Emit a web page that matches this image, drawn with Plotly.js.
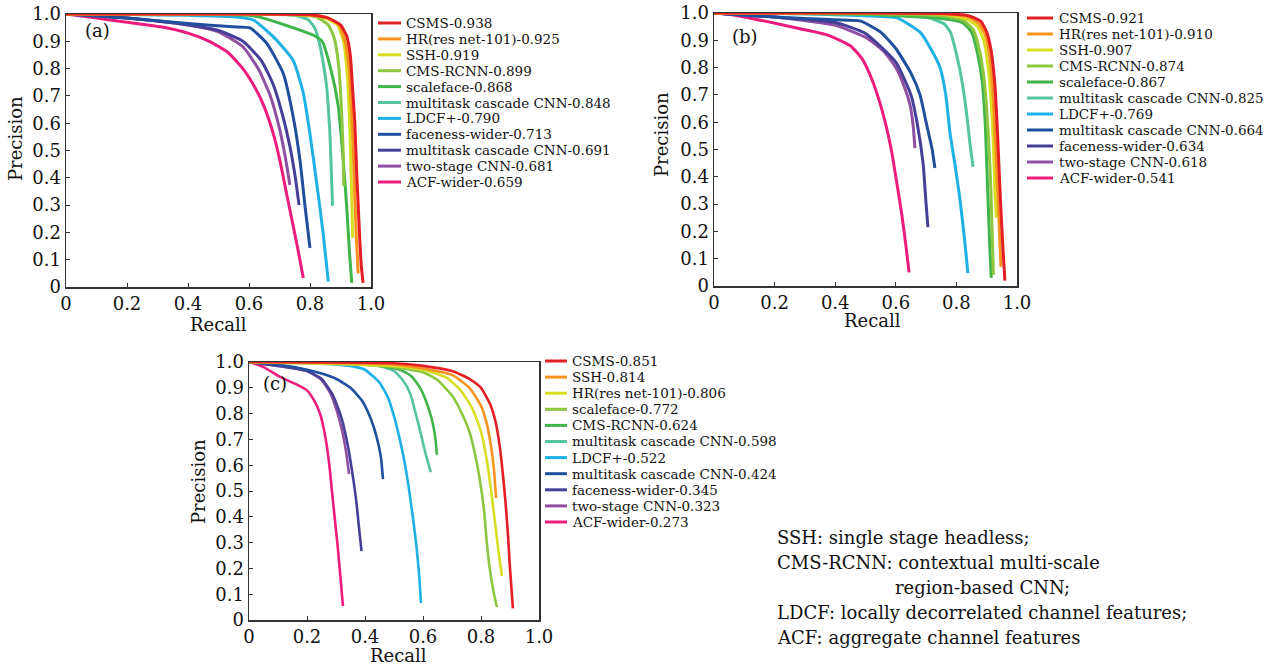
<!DOCTYPE html>
<html><head><meta charset="utf-8">
<script src="https://cdn.plot.ly/plotly-3.0.1.min.js"></script>
<style>html,body{margin:0;padding:0;background:#fff}#chart{width:1275px;height:668px}</style>
</head><body><div id="chart"></div>
<script>
// ---------- data ----------
const colors = ['#e31e24','#f7941d','#d7df23','#8dc63f','#3fb54a','#55c4a2','#1fb0e6','#204f9e','#463f98','#8e50a2','#ec1c7c'];

// Panel (a)
const namesA = ['CSMS','HR(res net-101)','SSH','CMS-RCNN','scaleface','multitask cascade CNN','LDCF+','faceness-wider','multitask cascade CNN','two-stage CNN','ACF-wider'];
const apA = ['0.938','0.925','0.919','0.899','0.868','0.848','0.790','0.713','0.691','0.681','0.659'];
const recallA = [
  [0,0.3,0.6,0.8,0.86,0.9,0.92,0.932,0.94,0.947,0.953,0.958,0.963,0.968,0.974],
  [0,0.3,0.6,0.8,0.86,0.895,0.915,0.928,0.936,0.942,0.947,0.952,0.958],
  [0,0.3,0.6,0.8,0.85,0.89,0.91,0.922,0.93,0.935,0.94],
  [0,0.3,0.6,0.75,0.82,0.86,0.88,0.893,0.902,0.908,0.911],
  [0,0.3,0.5,0.6,0.647,0.73,0.81,0.84,0.87,0.892,0.908,0.92,0.93,0.937],
  [0,0.3,0.6,0.75,0.795,0.815,0.827,0.842,0.855,0.861,0.866,0.87,0.874],
  [0,0.2,0.4,0.55,0.614,0.68,0.745,0.778,0.8,0.822,0.843,0.86],
  [0,0.2,0.4,0.548,0.603,0.658,0.712,0.745,0.767,0.784,0.8],
  [0,0.2,0.4,0.5,0.58,0.64,0.68,0.71,0.735,0.752,0.764],
  [0,0.2,0.4,0.5,0.58,0.63,0.67,0.7,0.72,0.734],
  [0,0.1,0.2,0.31,0.4,0.47,0.53,0.58,0.62,0.65,0.68,0.7,0.72,0.74,0.76,0.778]
];
const precisionA = [
  [1,1,1,0.997,0.985,0.96,0.92,0.85,0.72,0.6,0.42,0.3,0.18,0.08,0.015],
  [1,1,1,0.997,0.985,0.96,0.9,0.8,0.65,0.5,0.33,0.18,0.05],
  [1,1,1,0.995,0.985,0.96,0.9,0.78,0.6,0.4,0.18],
  [1,1,1,0.997,0.99,0.96,0.91,0.82,0.68,0.52,0.37],
  [1,1,0.998,0.995,0.985,0.955,0.923,0.9,0.79,0.667,0.48,0.3,0.117,0.015],
  [1,1,1,0.995,0.978,0.95,0.91,0.83,0.73,0.64,0.545,0.42,0.297],
  [1,0.998,0.995,0.99,0.978,0.916,0.83,0.71,0.56,0.38,0.198,0.02],
  [1,0.985,0.965,0.953,0.949,0.893,0.783,0.623,0.465,0.293,0.143],
  [1,0.985,0.96,0.94,0.9,0.83,0.74,0.63,0.51,0.4,0.3],
  [1,0.985,0.96,0.935,0.88,0.8,0.7,0.58,0.47,0.374],
  [1,0.985,0.97,0.953,0.93,0.9,0.86,0.8,0.73,0.66,0.56,0.47,0.36,0.25,0.14,0.033]
];

// Panel (b)
const namesB = ['CSMS','HR(res net-101)','SSH','CMS-RCNN','scaleface','multitask cascade CNN','LDCF+','multitask cascade CNN','faceness-wider','two-stage CNN','ACF-wider'];
const apB = ['0.921','0.910','0.907','0.874','0.867','0.825','0.769','0.664','0.634','0.618','0.541'];
const recallB = [
  [0,0.5,0.75,0.84,0.88,0.9,0.915,0.926,0.934,0.94,0.946,0.953,0.96],
  [0,0.5,0.75,0.84,0.875,0.895,0.91,0.92,0.928,0.934,0.94,0.947],
  [0,0.5,0.75,0.83,0.87,0.89,0.905,0.915,0.922,0.927,0.932],
  [0,0.5,0.75,0.82,0.855,0.875,0.89,0.9,0.908,0.914,0.918,0.922],
  [0,0.5,0.75,0.82,0.85,0.87,0.885,0.895,0.9,0.905,0.91,0.915],
  [0,0.5,0.7,0.76,0.78,0.8,0.82,0.835,0.845,0.855],
  [0,0.3,0.5,0.604,0.68,0.72,0.746,0.765,0.779,0.796,0.812,0.826,0.838],
  [0,0.2,0.4,0.482,0.55,0.6,0.65,0.68,0.7,0.72,0.729],
  [0,0.2,0.4,0.5,0.6,0.65,0.67,0.69,0.7,0.706],
  [0,0.2,0.4,0.505,0.56,0.6,0.628,0.647,0.657,0.663],
  [0,0.063,0.228,0.373,0.45,0.49,0.52,0.545,0.565,0.585,0.603,0.62,0.633,0.644]
];
const precisionB = [
  [1,1,0.998,0.99,0.97,0.93,0.86,0.75,0.6,0.45,0.3,0.15,0.02],
  [1,1,0.997,0.985,0.96,0.92,0.84,0.72,0.55,0.4,0.25,0.07],
  [1,1,0.996,0.98,0.95,0.9,0.8,0.67,0.52,0.35,0.25],
  [1,0.997,0.99,0.975,0.94,0.87,0.77,0.65,0.5,0.35,0.2,0.04],
  [1,0.995,0.98,0.965,0.93,0.85,0.75,0.6,0.45,0.3,0.15,0.03],
  [1,0.995,0.985,0.96,0.93,0.85,0.74,0.62,0.52,0.436],
  [1,0.997,0.99,0.982,0.93,0.86,0.8,0.7,0.56,0.44,0.315,0.18,0.047],
  [1,0.985,0.975,0.971,0.93,0.87,0.78,0.7,0.6,0.5,0.432],
  [1,0.985,0.965,0.925,0.82,0.7,0.6,0.45,0.3,0.216],
  [1,0.985,0.955,0.908,0.86,0.8,0.73,0.663,0.59,0.505],
  [1,0.993,0.956,0.92,0.88,0.83,0.76,0.68,0.6,0.5,0.38,0.26,0.15,0.05]
];

// Panel (c)
const namesC = ['CSMS','SSH','HR(res net-101)','scaleface','CMS-RCNN','multitask cascade CNN','LDCF+','multitask cascade CNN','faceness-wider','two-stage CNN','ACF-wider'];
const apC = ['0.851','0.814','0.806','0.772','0.624','0.598','0.522','0.424','0.345','0.323','0.273'];
const recallC = [
  [0,0.5,0.6,0.7,0.76,0.8,0.83,0.85,0.865,0.875,0.885,0.893,0.9,0.91],
  [0,0.5,0.6,0.7,0.76,0.8,0.82,0.835,0.845,0.852],
  [0,0.5,0.6,0.68,0.73,0.77,0.8,0.82,0.835,0.848,0.86,0.872],
  [0,0.3,0.5,0.6,0.65,0.7,0.73,0.76,0.78,0.795,0.81,0.82,0.83,0.845,0.855],
  [0,0.3,0.45,0.52,0.56,0.59,0.61,0.63,0.642,0.648],
  [0,0.3,0.45,0.5,0.53,0.555,0.575,0.595,0.61,0.627],
  [0,0.2,0.3,0.35,0.4,0.45,0.48,0.5,0.52,0.535,0.55,0.565,0.578,0.587,0.593],
  [0,0.1,0.2,0.25,0.3,0.35,0.39,0.42,0.44,0.455,0.462],
  [0,0.1,0.2,0.25,0.29,0.32,0.34,0.355,0.37,0.38,0.388],
  [0,0.1,0.2,0.25,0.28,0.3,0.32,0.335,0.345],
  [0,0.05,0.107,0.16,0.2,0.225,0.245,0.258,0.269,0.279,0.288,0.297,0.306,0.315,0.324]
];
const precisionC = [
  [1,0.995,0.985,0.965,0.935,0.9,0.84,0.77,0.67,0.57,0.45,0.33,0.2,0.045],
  [1,0.99,0.975,0.95,0.9,0.83,0.76,0.67,0.58,0.473],
  [1,0.985,0.97,0.94,0.89,0.82,0.73,0.62,0.5,0.38,0.27,0.17],
  [1,0.995,0.98,0.96,0.93,0.87,0.81,0.73,0.64,0.55,0.43,0.3,0.2,0.1,0.05],
  [1,0.995,0.985,0.97,0.945,0.9,0.85,0.78,0.71,0.64],
  [1,0.995,0.985,0.965,0.93,0.88,0.8,0.71,0.64,0.573],
  [1,0.995,0.99,0.985,0.97,0.92,0.86,0.79,0.7,0.62,0.52,0.4,0.28,0.17,0.066],
  [1,0.99,0.97,0.955,0.935,0.9,0.85,0.78,0.71,0.63,0.546],
  [1,0.985,0.965,0.935,0.87,0.78,0.68,0.58,0.46,0.35,0.267],
  [1,0.985,0.965,0.93,0.88,0.82,0.74,0.65,0.566],
  [1,0.98,0.942,0.915,0.89,0.85,0.8,0.74,0.67,0.58,0.477,0.38,0.283,0.17,0.054]
];

const xTickVals = [0,0.2,0.4,0.6,0.8,1.0];
const xTickText = ['0','0.2','0.4','0.6','0.8','1.0'];
const yTickVals = [0,0.1,0.2,0.3,0.4,0.5,0.6,0.7,0.8,0.9,1.0];
const yTickText = ['0','0.1','0.2','0.3','0.4','0.5','0.6','0.7','0.8','0.9','1.0'];

const notes = ['SSH: single stage headless;','CMS-RCNN: contextual multi-scale','region-based CNN;','LDCF: locally decorrelated channel features;','ACF: aggregate channel features'];

// ---------- layout helpers ----------
const W = 1275, H = 668;
const FONT = 'DejaVu Serif, Liberation Serif, serif';
const fx = v => v / W;
const fy = v => 1 - v / H;

const panels = [
  {key:'', names:namesA, ap:apA, rec:recallA, prec:precisionA, x0:66, x1:371, top:14, bot:287, lw:3,
   lg:{lx0:378, lx1:401, tx:404, ty:23, dy:15.9}, label:'(a)', lab:[97,31], rec_t:[218,325], pre_t:[15,139]},
  {key:'2', names:namesB, ap:apB, rec:recallB, prec:precisionB, x0:714, x1:1017, top:13, bot:286, lw:3,
   lg:{lx0:1027, lx1:1053, tx:1057, ty:18, dy:16}, label:'(b)', lab:[745,37], rec_t:[872,320], pre_t:[662,134]},
  {key:'3', names:namesC, ap:apC, rec:recallC, prec:precisionC, x0:249, x1:539, top:362, bot:620, lw:2.6,
   lg:{lx0:545, lx1:567, tx:570, ty:361, dy:16.1}, label:'(c)', lab:[275,383], rec_t:[398,655], pre_t:[198,482]}
];

const traces = [];
const shapes = [];
const annotations = [];
const layout = {
  width: W, height: H, margin:{l:0,r:0,t:0,b:0},
  paper_bgcolor:'#fff', plot_bgcolor:'#fff', showlegend:false,
  font:{family:FONT, color:'#111'}
};

panels.forEach(p => {
  const axBase = {
    range:[0,1], showline:true, mirror:true, linecolor:'#333', linewidth:1.5,
    ticks:'inside', ticklen:4, tickcolor:'#333', showgrid:false, zeroline:false,
    tickfont:{family:FONT, size:18, color:'#111'}, fixedrange:true
  };
  layout['xaxis'+p.key] = Object.assign({}, axBase, {
    domain:[fx(p.x0), fx(p.x1)], anchor:'y'+p.key, tickvals:xTickVals, ticktext:xTickText
  });
  layout['yaxis'+p.key] = Object.assign({}, axBase, {
    domain:[fy(p.bot), fy(p.top)], anchor:'x'+p.key, tickvals:yTickVals, ticktext:yTickText
  });
  for (let i = p.names.length - 1; i >= 0; i--) {
    traces.push({
      type:'scatter', mode:'lines', x:p.rec[i], y:p.prec[i],
      xaxis:'x'+p.key, yaxis:'y'+p.key, name:p.names[i]+'-'+p.ap[i],
      line:{color:colors[i], width:p.lw, shape:'spline', smoothing:0.5},
      hoverinfo:'name'
    });
  }
  p.names.forEach((n, i) => {
    const yy = p.lg.ty + i * p.lg.dy;
    shapes.push({type:'line', xref:'paper', yref:'paper', x0:fx(p.lg.lx0), x1:fx(p.lg.lx1), y0:fy(yy), y1:fy(yy),
      line:{color:colors[i], width:3}});
    annotations.push({xref:'paper', yref:'paper', x:fx(p.lg.tx), y:fy(yy), xanchor:'left', yanchor:'middle',
      text:n+'-'+p.ap[i], showarrow:false, font:{family:FONT, size:13.5, color:'#111'}});
  });
  annotations.push({xref:'paper', yref:'paper', x:fx(p.lab[0]), y:fy(p.lab[1]), xanchor:'center', yanchor:'middle',
    text:p.label, showarrow:false, font:{family:FONT, size:18, color:'#111'}});
  annotations.push({xref:'paper', yref:'paper', x:fx(p.rec_t[0]), y:fy(p.rec_t[1]), xanchor:'center', yanchor:'middle',
    text:'Recall', showarrow:false, font:{family:FONT, size:18, color:'#111'}});
  annotations.push({xref:'paper', yref:'paper', x:fx(p.pre_t[0]), y:fy(p.pre_t[1]), xanchor:'center', yanchor:'middle',
    text:'Precision', textangle:-90, showarrow:false, font:{family:FONT, size:18, color:'#111'}});
});

const noteX = [775, 775, 893, 775, 775];
const noteY = [537, 562, 587, 612, 637];
notes.forEach((t, i) => {
  annotations.push({xref:'paper', yref:'paper', x:fx(noteX[i]), y:fy(noteY[i]), xanchor:'left', yanchor:'middle',
    text:t, showarrow:false, font:{family:FONT, size:18, color:'#111'}});
});

layout.shapes = shapes;
layout.annotations = annotations;
Plotly.newPlot('chart', traces, layout, {displayModeBar:false, staticPlot:true});
</script></body></html>
